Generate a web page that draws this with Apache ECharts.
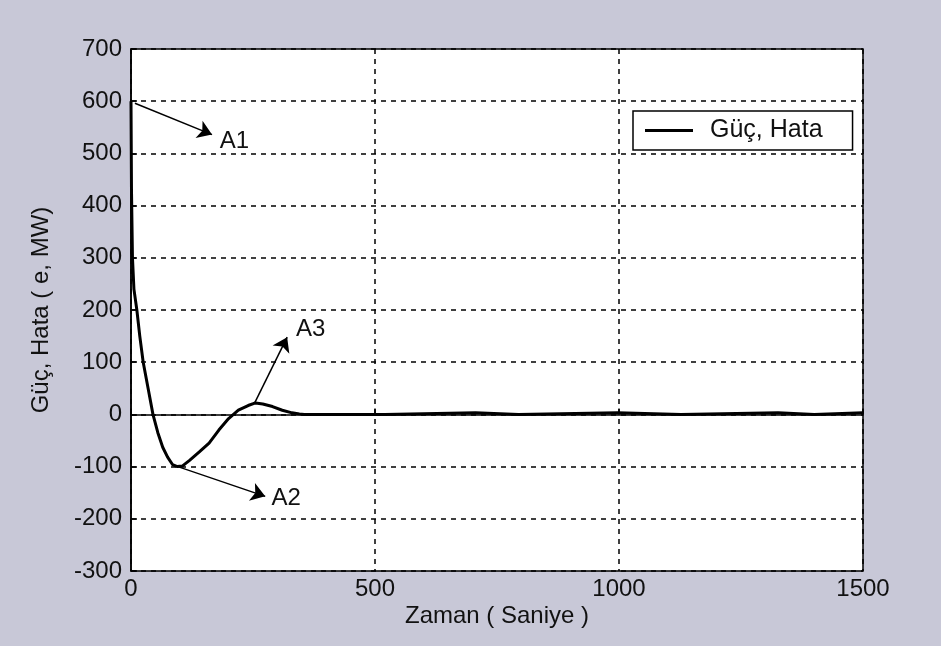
<!DOCTYPE html>
<html>
<head>
<meta charset="utf-8">
<script src="https://cdn.jsdelivr.net/npm/echarts@6/dist/echarts.min.js"></script>
<style>
html,body{margin:0;padding:0;background:#c9c9d7;}
#c{width:941px;height:646px;}
</style>
</head>
<body>
<div id="c"></div>
<script>
// Time (s) and value (MW) of the "Güç, Hata" curve
const timeValues = [0,1,3,6,12,18,25,35,45,55,65,75,85,95,105,120,140,160,180,200,220,240,255,270,290,310,330,345,355,520,522,706,708,794,796,997,999,1127,1129,1326,1328,1400,1402,1500];
const powerValues = [600,430,300,240,200,150,100,50,0,-35,-63,-82,-96,-100,-99,-88,-72,-55,-30,-8,8,17,22,20,15,8,3,1,0,0,3,3,0,0,3,3,0,0,3,3,0,0,3,3];
const xTicks = [0,500,1000,1500];
const yTicks = [-300,-200,-100,0,100,200,300,400,500,600,700];
// Annotation arrows: start point, end point (data coordinates)
const arrowStarts = [[8,596],[96,-100],[254,23]];
const arrowEnds = [[166,536],[275,-157],[320,148]];
const annotationNames = ['A1','A2','A3'];
const annotationPos = [[212,523],[318,-160],[368,163]];

const seriesData = timeValues.map((t,i)=>[t,powerValues[i]]);
const chart = echarts.init(document.getElementById('c'));
const font = 'Liberation Sans, Arial, sans-serif';
chart.setOption({
  animation:false,
  backgroundColor:'#c8c8d7',
  grid:{left:131,right:78,top:49,bottom:75,show:true,backgroundColor:'#fff',borderColor:'#000',borderWidth:1.5},
  legend:{
    left:633, top:111,
    data:['Güç, Hata'],
    icon:'rect', itemWidth:48, itemHeight:3,
    backgroundColor:'#fff', borderColor:'#000', borderWidth:1.5,
    padding:[7,30,7,12],
    itemStyle:{color:'#000'},
    textStyle:{fontFamily:font,fontSize:25,color:'#111',padding:[0,0,0,12]}
  },
  xAxis:{
    type:'value', min:xTicks[0], max:xTicks[xTicks.length-1], interval:500,
    name:'Zaman ( Saniye )', nameLocation:'middle', nameGap:33, nameMoveOverlap:false,
    nameTextStyle:{fontFamily:font,fontSize:24,color:'#111'},
    axisLine:{show:true,lineStyle:{color:'#000',width:1.5}},
    axisTick:{show:true,inside:true,length:6,lineStyle:{color:'#000',width:1.5}},
    axisLabel:{fontFamily:font,fontSize:24,color:'#111',margin:6,formatter:v=>String(v)},
    splitLine:{show:true,lineStyle:{color:'#000',type:[5,5],width:1.5}}
  },
  yAxis:{
    type:'value', min:yTicks[0], max:yTicks[yTicks.length-1], interval:100,
    name:'Güç, Hata ( e, MW)', nameLocation:'middle', nameGap:78, nameMoveOverlap:false,
    nameTextStyle:{fontFamily:font,fontSize:24,color:'#111'},
    axisLine:{show:true,lineStyle:{color:'#000',width:1.5}},
    axisTick:{show:true,inside:true,length:6,lineStyle:{color:'#000',width:1.5}},
    axisLabel:{fontFamily:font,fontSize:24,color:'#111',margin:9},
    splitLine:{show:true,lineStyle:{color:'#000',type:[5,5],width:1.5}}
  },
  series:[{
    name:'Güç, Hata', type:'line', data:seriesData, showSymbol:false, symbol:'none',
    lineStyle:{color:'#000',width:3}, itemStyle:{color:'#000'},
    markLine:{
      silent:true, symbol:['none','arrow'], symbolSize:14,
      itemStyle:{color:'#000'},
      lineStyle:{color:'#000',width:1.5,type:'solid'},
      label:{show:false},
      data: arrowStarts.map((s,i)=>[{coord:s},{coord:arrowEnds[i]}])
    },
    markPoint:{
      silent:true, symbol:'circle', symbolSize:0,
      label:{show:true,position:'inside',formatter:'{b}',fontFamily:font,fontSize:24,color:'#111'},
      data: annotationNames.map((n,i)=>({name:n,coord:annotationPos[i]}))
    }
  }]
});
</script>
</body>
</html>
